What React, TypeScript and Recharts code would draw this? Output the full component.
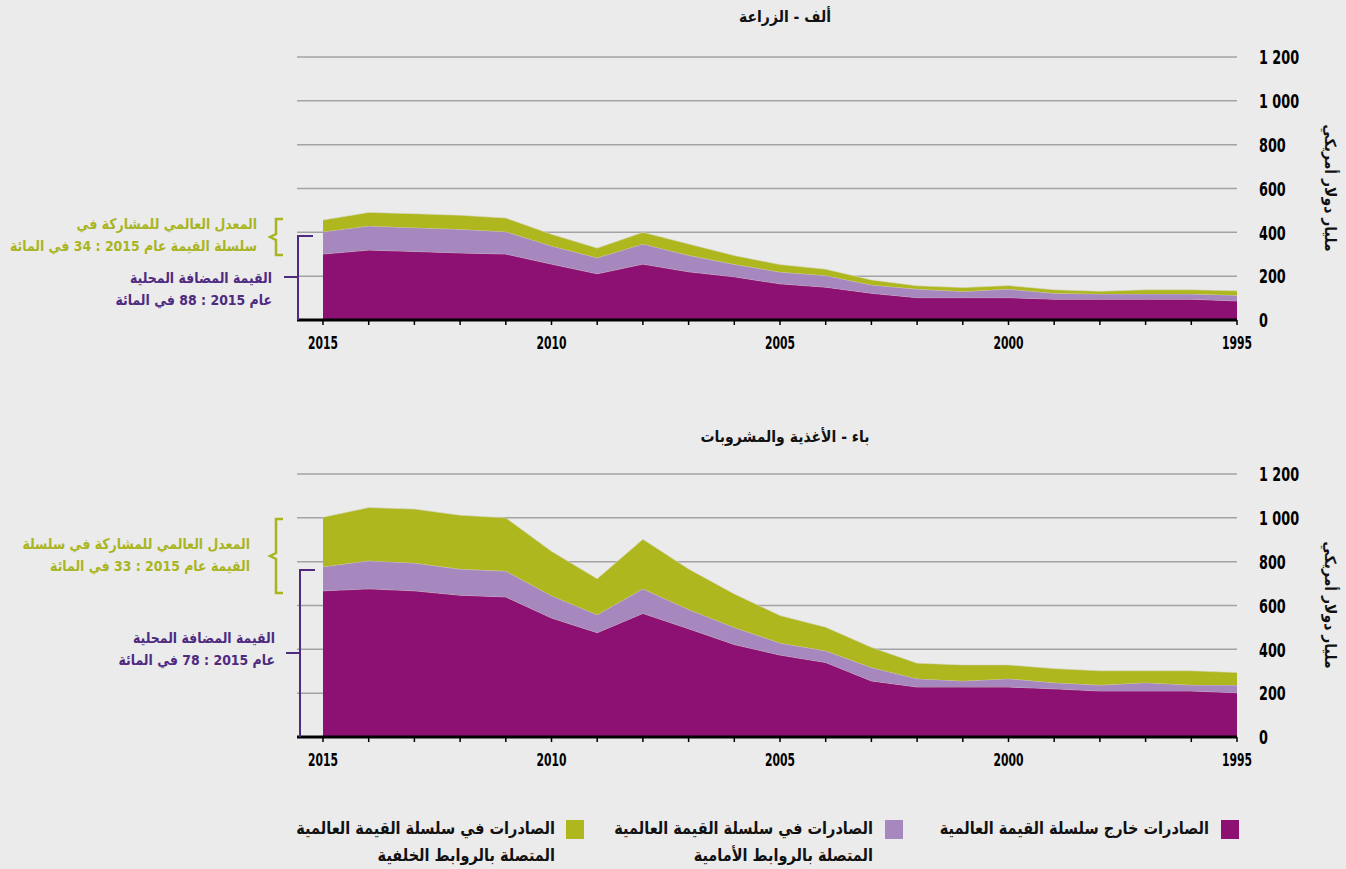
import { AreaChart, Area, XAxis, YAxis, CartesianGrid } from "recharts";

// years run right-to-left in the original, so data is listed 2015 -> 1995
const years = [
  2015, 2014, 2013, 2012, 2011, 2010, 2009, 2008, 2007, 2006, 2005,
  2004, 2003, 2002, 2001, 2000, 1999, 1998, 1997, 1996, 1995,
];

// ألف - الزراعة
const agriDomestic = [301, 319, 313, 306, 301, 255, 211, 255, 220, 197, 165, 150, 122, 102, 102, 102, 95, 95, 95, 95, 87];
const agriForward = [102, 110, 108, 108, 102, 83, 73, 92, 75, 57, 54, 53, 38, 39, 28, 39, 27, 24, 24, 24, 26];
const agriBackward = [53, 62, 64, 64, 62, 53, 44, 53, 52, 40, 34, 29, 23, 15, 18, 16, 16, 12, 19, 19, 20];

// باء - الأغذية والمشروبات
const foodDomestic = [667, 676, 667, 647, 639, 543, 476, 564, 494, 422, 374, 340, 256, 228, 228, 228, 220, 210, 210, 210, 202];
const foodForward = [110, 128, 127, 119, 118, 102, 82, 112, 88, 78, 55, 53, 61, 38, 28, 38, 28, 27, 38, 27, 35];
const foodBackward = [226, 243, 246, 246, 243, 202, 164, 226, 185, 153, 125, 108, 92, 71, 73, 63, 64, 65, 54, 65, 57];

const yTicks = [0, 200, 400, 600, 800, 1000, 1200];
const yTickLabels = ["0", "200", "400", "600", "800", "1 000", "1 200"];
const labelledYears = [2015, 2010, 2005, 2000, 1995];

const seriesKeys = ["domestic", "forward", "backward"];
const seriesColors = ["#8d1172", "#a688bf", "#afb71f"];
const legendLines = [
  ["الصادرات خارج سلسلة القيمة العالمية"],
  ["الصادرات في سلسلة القيمة العالمية", "المتصلة بالروابط الأمامية"],
  ["الصادرات في سلسلة القيمة العالمية", "المتصلة بالروابط الخلفية"],
];

const yUnit = "مليار دولار أمريكي";
const arabicFont = "'DejaVu Sans', sans-serif";
const numFont = "'DejaVu Sans', sans-serif";
const greenText = "#a9b51f";
const purpleText = "#4e2a80";

// condensed-looking numbers: the original uses a narrow face
function YearTick({ x, y, payload }: any) {
  if (!labelledYears.includes(payload.value)) return <g />;
  return (
    <g transform={`translate(${x},${y})`}>
      <text transform="scale(0.6,1)" dy="0.75em" textAnchor="middle" fill="#000" fontSize={18} fontWeight={700} fontFamily={numFont}>
        {payload.value}
      </text>
    </g>
  );
}

function ValueTick({ x, y, payload }: any) {
  return (
    <g transform={`translate(${x},${y})`}>
      <text transform="scale(0.64,1)" dy="0.36em" textAnchor="start" fill="#000" fontSize={20} fontWeight={700} fontFamily={numFont}>
        {yTickLabels[yTicks.indexOf(payload.value)]}
      </text>
    </g>
  );
}

type PanelProps = {
  top: number;
  title: string;
  titleTop: number;
  domestic: number[];
  forward: number[];
  backward: number[];
  greenLines: string[];
  purpleLines: string[];
  brace: { y1: number; y2: number; textTop: number; textRight: number };
  bracket: { y1: number; mid: number; x: number; textTop: number; textRight: number };
};

function Panel(p: PanelProps) {
  const data = years.map((year, i) => ({
    year,
    domestic: p.domestic[i],
    forward: p.forward[i],
    backward: p.backward[i],
  }));
  const braceMid = (p.brace.y1 + p.brace.y2) / 2;
  const noteStyle = {
    position: "absolute" as const,
    textAlign: "right" as const,
    whiteSpace: "nowrap" as const,
    fontFamily: arabicFont,
    fontWeight: 700,
    fontSize: 12.5,
    lineHeight: "17.5px",
    direction: "rtl" as const,
    transform: "scaleY(1.18)",
    transformOrigin: "top right",
  };
  return (
    <div style={{ position: "absolute", left: 0, top: p.top, width: 1346, height: 360 }}>
      <AreaChart width={1346} height={360} data={data} margin={{ top: 57, right: 29, bottom: 10, left: 297 }}>
        <CartesianGrid vertical={false} stroke="#a3a3a3" strokeWidth={1.5} />
        <XAxis
          dataKey="year"
          interval={0}
          padding={{ left: 26, right: 0 }}
          axisLine={{ stroke: "#000", strokeWidth: 3 }}
          tickLine={{ stroke: "#000", strokeWidth: 1.5 }}
          tickSize={5}
          tickMargin={10}
          tick={<YearTick />}
        />
        <YAxis
          orientation="right"
          width={80}
          domain={[0, 1200]}
          ticks={yTicks}
          axisLine={false}
          tickLine={false}
          tickSize={0}
          tickMargin={22}
          tick={<ValueTick />}
        />
        {seriesKeys.map((k, i) => (
          <Area
            key={k}
            type="linear"
            dataKey={k}
            stackId="a"
            fill={seriesColors[i]}
            fillOpacity={1}
            stroke="#d8d8c8"
            strokeWidth={0.6}
            isAnimationActive={false}
          />
        ))}
      </AreaChart>

      <div
        style={{
          position: "absolute", left: 620, width: 330, top: p.titleTop, textAlign: "center",
          fontFamily: arabicFont, fontWeight: 700, fontSize: 14, direction: "rtl", color: "#111",
          transform: "scaleY(1.15)",
        }}
      >
        {p.title}
      </div>

      <div
        style={{
          position: "absolute", left: 1330, top: 188, transform: "translate(-50%, -50%) rotate(90deg) scaleY(1.1)",
          whiteSpace: "nowrap", fontFamily: arabicFont, fontWeight: 700, fontSize: 14, direction: "rtl", color: "#111",
        }}
      >
        {yUnit}
      </div>

      <svg width={1346} height={360} style={{ position: "absolute", left: 0, top: 0, pointerEvents: "none" }}>
        <path
          d={`M283,${p.brace.y1} H276 V${braceMid - 3} L270,${braceMid} L276,${braceMid + 3} V${p.brace.y2} H283`}
          fill="none"
          stroke={greenText}
          strokeWidth={2.5}
        />
        <path
          d={`M${p.bracket.x + 15},${p.bracket.y1} H${p.bracket.x} V320 M${p.bracket.x - 14},${p.bracket.mid} H${p.bracket.x}`}
          fill="none"
          stroke={purpleText}
          strokeWidth={2}
        />
      </svg>

      <div style={{ ...noteStyle, right: 1346 - p.brace.textRight, top: p.brace.textTop, color: greenText }}>
        {p.greenLines.map((l) => (
          <div key={l}>{l}</div>
        ))}
      </div>
      <div style={{ ...noteStyle, right: 1346 - p.bracket.textRight, top: p.bracket.textTop, color: purpleText }}>
        {p.purpleLines.map((l) => (
          <div key={l}>{l}</div>
        ))}
      </div>
    </div>
  );
}

const legendSquareX = [1221, 885, 566];
const legendTextRight = [1209, 873, 555];

export default function App() {
  return (
    <div style={{ position: "absolute", left: 0, top: 0, width: 1346, height: 869, background: "#ebebeb", overflow: "hidden" }}>
      <Panel
        top={0}
        title="ألف - الزراعة"
        titleTop={8}
        domestic={agriDomestic}
        forward={agriForward}
        backward={agriBackward}
        greenLines={["المعدل العالمي للمشاركة في", "سلسلة القيمة عام 2015 : 34 في المائة"]}
        purpleLines={["القيمة المضافة المحلية", "عام 2015 : 88 في المائة"]}
        brace={{ y1: 219, y2: 255, textTop: 214, textRight: 257 }}
        bracket={{ y1: 236, mid: 277, x: 298, textTop: 268, textRight: 272 }}
      />
      <Panel
        top={417}
        title="باء - الأغذية والمشروبات"
        titleTop={11}
        domestic={foodDomestic}
        forward={foodForward}
        backward={foodBackward}
        greenLines={["المعدل العالمي للمشاركة في سلسلة", "القيمة عام 2015 : 33 في المائة"]}
        purpleLines={["القيمة المضافة المحلية", "عام 2015 : 78 في المائة"]}
        brace={{ y1: 102, y2: 176, textTop: 117, textRight: 250 }}
        bracket={{ y1: 153, mid: 236, x: 300, textTop: 211, textRight: 275 }}
      />

      {legendLines.map((lines, i) => (
        <div key={i}>
          <div
            style={{
              position: "absolute", left: legendSquareX[i], top: 820, width: 18, height: 19, background: seriesColors[i],
            }}
          />
          <div
            style={{
              position: "absolute", right: 1346 - legendTextRight[i], top: 816, textAlign: "right",
              whiteSpace: "nowrap", fontFamily: arabicFont, fontWeight: 700, fontSize: 14.5, lineHeight: "23px",
              direction: "rtl", color: "#111", transform: "scaleY(1.15)", transformOrigin: "top right",
            }}
          >
            {lines.map((l) => (
              <div key={l}>{l}</div>
            ))}
          </div>
        </div>
      ))}
    </div>
  );
}
